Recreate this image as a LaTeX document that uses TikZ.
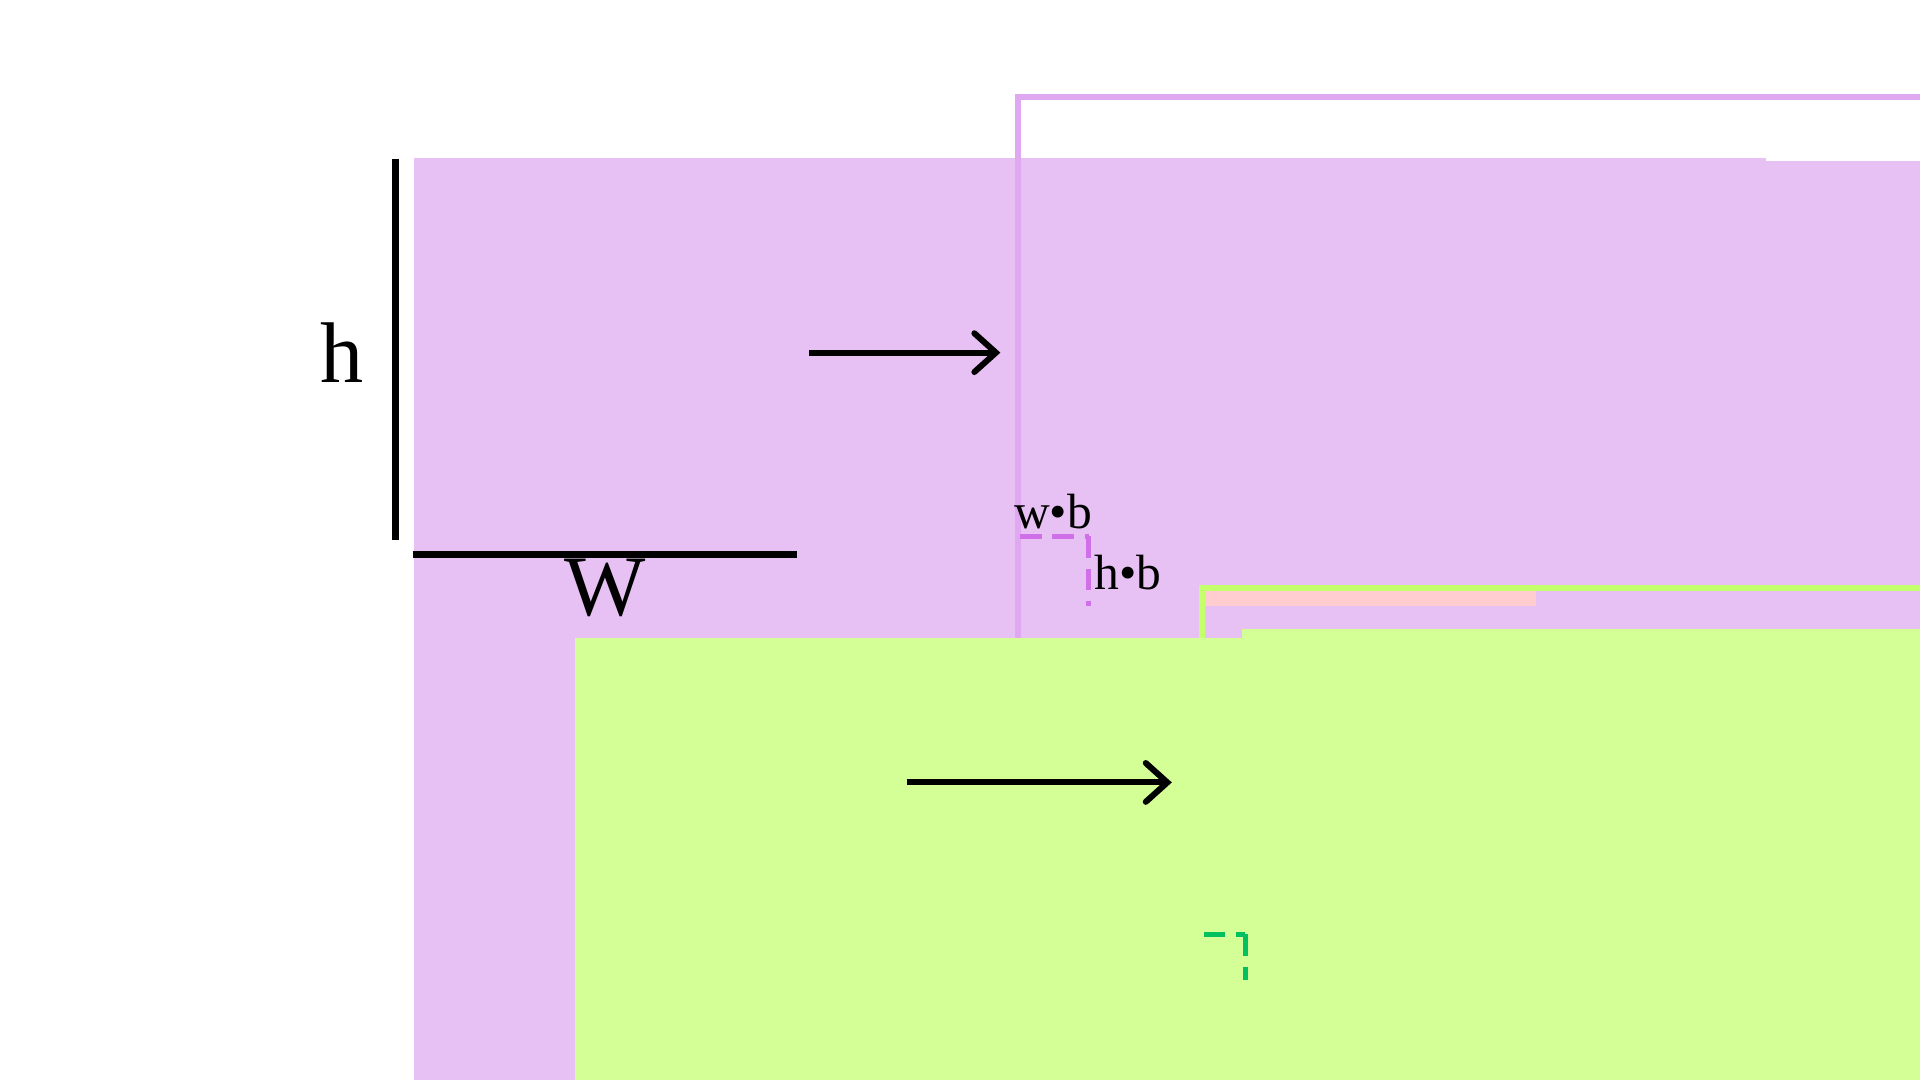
\documentclass[tikz,border=0pt]{standalone}
\usepackage{fontspec}
\setmainfont{Liberation Serif}
\usetikzlibrary{arrows.meta}
\definecolor{pinkF}{RGB}{232,193,244}
\definecolor{greenF}{RGB}{212,254,150}
\definecolor{pinkB}{RGB}{224,168,240}
\definecolor{greenB}{RGB}{196,255,108}
\definecolor{pinkD}{RGB}{208,112,232}
\definecolor{greenD}{RGB}{0,192,96}
\definecolor{overlap}{RGB}{255,204,208}
\begin{document}
\begin{tikzpicture}[x=0.01cm,y=-0.01cm,
  pinkfill/.style={fill=pinkF},
  greenfill/.style={fill=greenF},
  pinkframe/.style={draw=pinkB,line width=1.4pt},
  greenframe/.style={draw=greenB,line width=1.4pt},
  dimline/.style={line width=1.5pt},
  arr/.style={line width=1.4pt,-{Straight Barb[length=5pt,width=9pt,line cap=round]}},
  pdash/.style={draw=pinkD,line width=1.2pt,dash pattern=on 5pt off 2.5pt},
  gdash/.style={draw=greenD,line width=1.2pt,dash pattern=on 5pt off 2.5pt}]
\useasboundingbox (0,0) rectangle (1568,882);
\fill[white] (0,0) rectangle (1568,882);
% top left
\node[pinkfill,minimum width=314,minimum height=313,inner sep=0,anchor=north west] (A) at (337,128) {};
\coordinate (hv1) at (323,130); \coordinate (hv2) at (323,441);
\draw[dimline] (hv1) -- (hv2);
\coordinate (wh1) at (337,453); \coordinate (wh2) at (651,453);
\draw[dimline] (wh1) -- (wh2);
\node[font=\fontsize{20}{24}\selectfont] (hl) at (279,288) {h};
\node[font=\fontsize{20}{24}\selectfont] (wl) at (494,480) {W};
% top right
\node[pinkframe,minimum width=428,minimum height=421,inner sep=0,anchor=north west] (B) at (829,77) {};
\node[pinkfill,minimum width=313,minimum height=312,inner sep=0,anchor=north west] (Bi) at (887,131) {};
\coordinate (a1s) at (661,288); \coordinate (a1e) at (817,288);
\draw[arr] (a1s) -- (a1e);
\coordinate (pd1) at (833,438); \coordinate (pd2) at (889,438); \coordinate (pd3) at (889,495);
\draw[pdash] (pd1) -- (pd2);
\draw[pdash] (pd2) -- (pd3);
\node[font=\fontsize{11.5}{13}\selectfont] (wb) at (860,418) {w•b};
\node[font=\fontsize{11.5}{13}\selectfont] (hb) at (921,468) {h•b};
% bottom
\fill[overlap] (983,483) rectangle (1254,495);
\node[greenframe,minimum width=324,minimum height=325,inner sep=0,anchor=north west] (C) at (979,478) {};
\node[greenfill,minimum width=253,minimum height=254,inner sep=0,anchor=north west] (Ci) at (1014,513) {};
\node[greenfill,minimum width=253,minimum height=253,inner sep=0,anchor=north west] (D) at (469,520) {};
\coordinate (a2s) at (741,639); \coordinate (a2e) at (957,639);
\draw[arr] (a2s) -- (a2e);
\coordinate (gd1) at (983,763); \coordinate (gd2) at (1017,763); \coordinate (gd3) at (1017,800);
\draw[gdash] (gd1) -- (gd2);
\draw[gdash] (gd2) -- (gd3);
\end{tikzpicture}
\end{document}
